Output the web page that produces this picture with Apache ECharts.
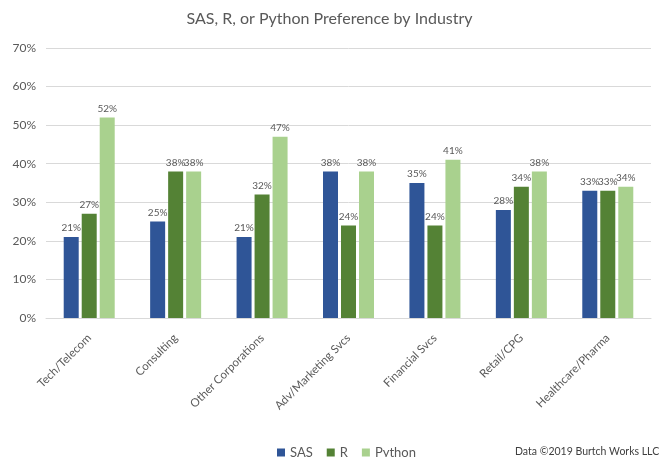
<!DOCTYPE html>
<html><head><meta charset="utf-8">
<script src="https://cdn.jsdelivr.net/npm/echarts@6/dist/echarts.min.js"></script>
<style>html,body{margin:0;padding:0;background:#fff}#c{width:659px;height:457px}</style>
</head><body><div id="c"></div>
<script>
const categories = ["Tech/Telecom","Consulting","Other Corporations","Adv/Marketing Svcs","Financial Svcs","Retail/CPG","Healthcare/Pharma"];
const sas = [21,25,21,38,35,28,33];
const r = [27,38,32,24,24,34,33];
const python = [52,38,47,38,41,38,34];
const yTicks = [0,10,20,30,40,50,60,70];

const font = "Lato, 'Open Sans', sans-serif";
const lbl = {show:true, position:'top', formatter:p=>p.value+'%', color:'#595959', fontSize:10, fontFamily:font, distance:4};
const chart = echarts.init(document.getElementById('c'), null, {renderer:'canvas'});
chart.setOption({
  animation:false,
  title:{text:'SAS, R, or Python Preference by Industry', left:'center', top:6, textStyle:{color:'#595959', fontSize:16, fontWeight:'normal', fontFamily:font}},
  legend:{top:441, left:272, itemWidth:8, itemHeight:8, itemGap:14, icon:'rect', textStyle:{color:'#595959', fontSize:13, fontFamily:font}, data:['SAS','R','Python']},
  graphic:[{type:'text', left:515, top:446, style:{text:'Data ©2019 Burtch Works LLC', fill:'#404040', font:'10.5px '+font}}],
  grid:{left:46, right:8, top:48, bottom:139},
  xAxis:{type:'category', data:categories, axisLine:{lineStyle:{color:'#d9d9d9'}}, axisTick:{show:false},
    axisLabel:{rotate:45, color:'#595959', fontSize:11.5, fontFamily:font, margin:18, interval:0}},
  yAxis:{type:'value', min:0, max:70, interval:10, axisLabel:{formatter:v=>v+'%', color:'#595959', fontSize:12, fontFamily:font, margin:10},
    splitLine:{lineStyle:{color:'#d9d9d9'}}, axisLine:{show:false}, axisTick:{show:false}},
  series:[
    {name:'SAS', type:'bar', data:sas, itemStyle:{color:'#2F5597'}, barWidth:15, barGap:'20%', label:lbl},
    {name:'R', type:'bar', data:r, itemStyle:{color:'#548235'}, barWidth:15, barGap:'20%', label:lbl},
    {name:'Python', type:'bar', data:python, itemStyle:{color:'#A9D18E'}, barWidth:15, barGap:'20%', label:lbl}
  ]
});
</script></body></html>
